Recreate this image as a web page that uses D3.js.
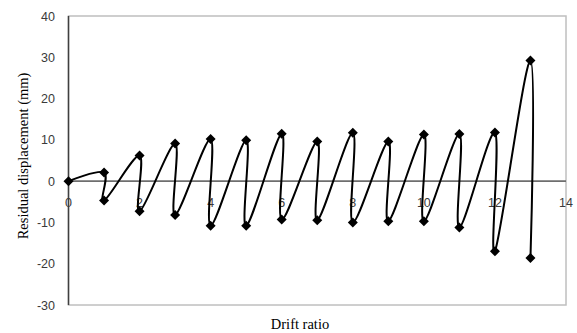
<!DOCTYPE html>
<html>
<head>
<meta charset="utf-8">
<script src="https://cdn.jsdelivr.net/npm/d3@7"></script>
<style>
html,body{margin:0;padding:0;background:#fff;}
svg{display:block;}
</style>
</head>
<body>
<svg id="chart" width="577" height="333"></svg>
<script>
const driftRatio = [0,1,1,2,2,3,3,4,4,5,5,6,6,7,7,8,8,9,9,10,10,11,11,12,12,13,13];
const residualDisp = [0,2.1,-4.7,6.2,-7.3,9.1,-8.2,10.2,-10.8,9.9,-10.8,11.5,-9.3,9.6,-9.5,11.7,-10,9.6,-9.7,11.3,-9.7,11.4,-11.2,11.8,-17,29.2,-18.6];
const xTicks = [0,2,4,6,8,10,12,14];
const yTicks = [-30,-20,-10,0,10,20,30,40];
const xTitle = "Drift ratio";
const yTitle = "Residual displacement (mm)";

const svg = d3.select("#chart");
const L = 68.5, R = 566, T = 16, B = 305;
const x = d3.scaleLinear().domain([0,14]).range([L,R]);
const y = d3.scaleLinear().domain([-30,40]).range([B,T]);

// plot area border (light gray)
svg.append("rect").attr("x",L).attr("y",T).attr("width",R-L).attr("height",B-T)
  .attr("fill","none").attr("stroke","#bfbfbf").attr("stroke-width",1.5);

// vertical axis line
svg.append("line").attr("x1",L).attr("x2",L).attr("y1",T).attr("y2",B)
  .attr("stroke","#404040").attr("stroke-width",1.5);

// horizontal axis at y=0
svg.append("line").attr("x1",L).attr("x2",R).attr("y1",y(0)).attr("y2",y(0))
  .attr("stroke","#6e6e6e").attr("stroke-width",1.8);

// y tick labels
svg.append("g").selectAll("text").data(yTicks).join("text")
  .attr("x",55).attr("y",d=>y(d)).attr("dy","0.36em")
  .attr("text-anchor","end")
  .attr("font-family","'Liberation Sans', Arial, sans-serif").attr("font-size",12.5)
  .attr("fill","#3a3a3a").text(d=>d);

// x tick labels (below zero line)
svg.append("g").selectAll("text").data(xTicks).join("text")
  .attr("x",d=>x(d)).attr("y",y(0)+21).attr("dy","0.36em")
  .attr("text-anchor","middle")
  .attr("font-family","'Liberation Sans', Arial, sans-serif").attr("font-size",12.5)
  .attr("fill","#3a3a3a").text(d=>d);

// series
const pts = driftRatio.map((d,i)=>[d,residualDisp[i]]);
const line = d3.line().x(d=>x(d[0])).y(d=>y(d[1])).curve(d3.curveCardinal.tension(0));
svg.append("path").datum(pts).attr("d",line)
  .attr("fill","none").attr("stroke","#000").attr("stroke-width",2);

const sym = d3.symbol().type(d3.symbolSquare).size(50);
svg.append("g").selectAll("path").data(pts).join("path")
  .attr("d",sym)
  .attr("transform",d=>`translate(${x(d[0])},${y(d[1])}) rotate(45)`)
  .attr("fill","#000");

// axis titles
svg.append("text").attr("x",300).attr("y",329)
  .attr("text-anchor","middle")
  .attr("font-family","'Liberation Serif', 'Times New Roman', serif").attr("font-size",14.5)
  .attr("fill","#000").text(xTitle);

svg.append("text").attr("transform","translate(23,156) rotate(-90)")
  .attr("text-anchor","middle").attr("dy","0.35em")
  .attr("font-family","'Liberation Serif', 'Times New Roman', serif").attr("font-size",14.5)
  .attr("fill","#000").text(yTitle);
</script>
</body>
</html>
